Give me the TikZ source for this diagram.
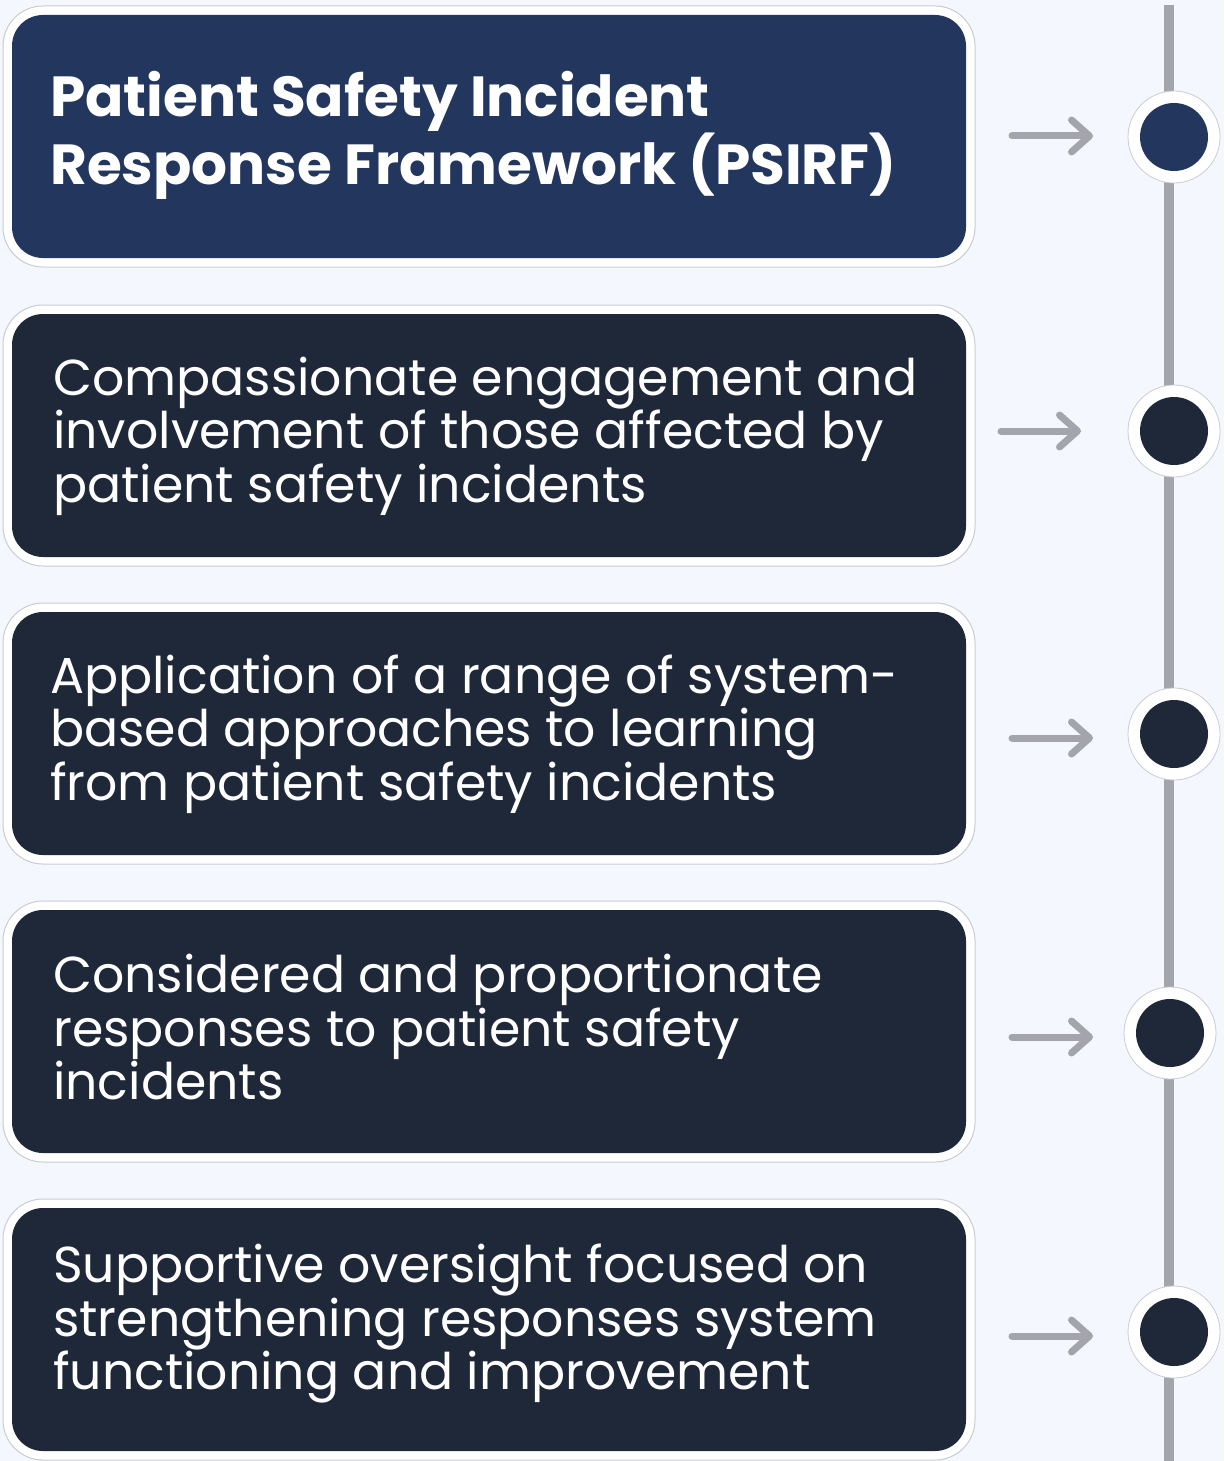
\documentclass[tikz,border=0pt]{standalone}
\usepackage{fontspec}
\setmainfont{Poppins}
\usetikzlibrary{arrows.meta}
\definecolor{bg}{HTML}{F4F7FD}
\definecolor{navy}{HTML}{22365E}
\definecolor{dark}{HTML}{1F2839}
\definecolor{rim}{HTML}{C8CCD4}
\definecolor{greyline}{HTML}{A4A5AA}
\tikzset{
  x=1pt, y=-1pt,
  outerbox/.style={draw=rim, line width=1pt, fill=white, rounded corners=40pt, minimum width=972pt, minimum height=261pt, inner sep=0pt},
  innerbox/.style={fill=#1, rounded corners=31pt, minimum width=954pt, minimum height=243pt, inner sep=0pt},
  bodytext/.style={text=white, anchor=west, align=left, font=\fontsize{50.5}{53.5}\selectfont, inner sep=0pt},
  titletext/.style={text=white, anchor=base west, align=left, font=\fontsize{56.5}{58}\selectfont\bfseries, inner sep=0pt},
  ring/.style={circle, draw=rim, line width=0.8pt, fill=white, minimum size=92pt, inner sep=0pt},
  dot/.style={circle, fill=#1, minimum size=68pt, inner sep=0pt},
  pointer/.style={draw=greyline, line width=7pt, -{Straight Barb[length=18pt,width=32pt,round,line width=7pt]}},
}
\begin{document}
\begin{tikzpicture}
\useasboundingbox[fill=bg] (0,0) rectangle (1224,1461);
% timeline
\coordinate (ltop) at (1169,5);
\coordinate (lbot) at (1169,1461);
\draw[greyline, line width=10pt] (ltop) -- (lbot);
% boxes
\foreach \i/\yc/\col in {1/136.5/navy,2/435.5/dark,3/733.5/dark,4/1031.5/dark,5/1329.5/dark}{
  \node[outerbox] (o\i) at (489,\yc) {};
  \node[innerbox=\col] (b\i) at (489,\yc) {};
}
\node[titletext] (t1) at (50,184) {Patient Safety Incident\\Response Framework (PSIRF)};
\node[bodytext] (t2) at (53,436) {Compassionate engagement and\\involvement of those affected by\\patient safety incidents};
\node[bodytext] (t3) at (50,734) {Application of a range of system-\\based approaches to learning\\from patient safety incidents};
\node[bodytext] (t4) at (53,1027) {Considered and proportionate\\responses to patient safety\\incidents};
\node[bodytext] (t5) at (53,1324) {Supportive oversight focused on\\strengthening responses system\\functioning and improvement};
% circles
\foreach \i/\x/\y/\col in {1/1174/137/navy,2/1174/431/dark,3/1174/734/dark,4/1170/1033/dark,5/1174/1332/dark}{
  \node[ring] (r\i) at (\x,\y) {};
  \node[dot=\col] (d\i) at (\x,\y) {};
}
% arrows
\foreach \i/\xa/\xb/\y in {1/1012/1093/136,2/1001/1081/431,3/1012/1093/738,4/1012/1093/1037,5/1012/1093/1336}{
  \coordinate (as\i) at (\xa,\y);
  \coordinate (ae\i) at (\xb,\y);
  \draw[pointer, line cap=round] (as\i) -- (ae\i);
}
\end{tikzpicture}
\end{document}
